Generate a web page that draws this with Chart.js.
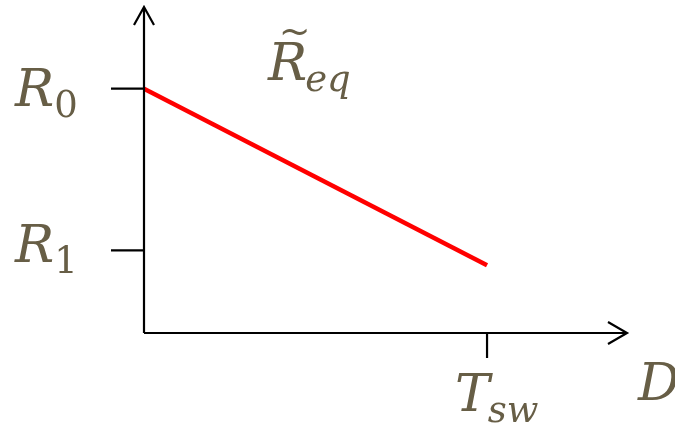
<!DOCTYPE html>
<html>
<head>
<meta charset="utf-8">
<script src="https://cdn.jsdelivr.net/npm/chart.js@4/dist/chart.umd.min.js"></script>
<style>
    html, body { margin: 0; padding: 0; background: #ffffff; }
    #wrap { width: 675px; height: 426px; }
</style>
</head>
<body>
<div id="wrap"><canvas id="reqChart" width="675" height="426"></canvas></div>
<script>
// line end points: x in units of T_sw, y in units of R1
const durations = [0, 1];
const reqValues = [2.96, 0.82];

// axis marks
const yTickValues = [2.96, 1];
const yTickLabels = [['R', '0'], ['R', '1']];
const xTickValues = [1];
const xTickLabels = [['T', 'sw']];
const xAxisLabel = 'D';
const seriesLabel = ['R', 'eq'];

const textColor = '#675e46';
const mathFont = '"DejaVu Serif", serif';

function drawSub(ctx, main, sub, x, y, size) {
    ctx.font = 'italic ' + size + 'px ' + mathFont;
    ctx.fillText(main, x, y);
    const w = ctx.measureText(main).width;
    // digits stay upright, letters italic
    const style = /^[0-9]+$/.test(sub) ? '' : 'italic ';
    ctx.font = style + Math.round(size * 0.72) + 'px ' + mathFont;
    ctx.fillText(sub, x + w - (style ? 2 : 0), y + 11);
    return w;
}

const axesPlugin = {
    id: 'axesPlugin',
    afterDraw(chart) {
        const ctx = chart.ctx;
        const xs = chart.scales.x;
        const ys = chart.scales.y;
        const x0 = xs.getPixelForValue(0);
        const y0 = ys.getPixelForValue(0);
        const top = chart.chartArea.top;
        const right = chart.chartArea.right;

        ctx.save();
        ctx.strokeStyle = '#000000';
        ctx.lineWidth = 2.2;

        // y axis with arrow
        ctx.beginPath();
        ctx.moveTo(x0, y0);
        ctx.lineTo(x0, top);
        ctx.moveTo(x0 - 10, top + 18);
        ctx.lineTo(x0, top);
        ctx.lineTo(x0 + 10, top + 18);
        // x axis with arrow
        ctx.moveTo(x0, y0);
        ctx.lineTo(right, y0);
        ctx.moveTo(right - 19, y0 - 11);
        ctx.lineTo(right, y0);
        ctx.lineTo(right - 19, y0 + 11);
        ctx.stroke();

        ctx.fillStyle = textColor;
        ctx.textBaseline = 'alphabetic';
        ctx.textAlign = 'left';

        // y ticks
        yTickValues.forEach(function (v, i) {
            const py = ys.getPixelForValue(v);
            ctx.beginPath();
            ctx.moveTo(x0 - 33, py);
            ctx.lineTo(x0, py);
            ctx.stroke();
            drawSub(ctx, yTickLabels[i][0], yTickLabels[i][1], 15, py + (i === 0 ? 17 : 12), 52);
        });

        // x ticks
        xTickValues.forEach(function (v, i) {
            const px = xs.getPixelForValue(v);
            ctx.beginPath();
            ctx.moveTo(px, y0);
            ctx.lineTo(px, y0 + 25);
            ctx.stroke();
            drawSub(ctx, xTickLabels[i][0], xTickLabels[i][1], px - 32, y0 + 78, 52);
        });

        // axis name
        ctx.font = 'italic 52px ' + mathFont;
        ctx.fillText(xAxisLabel, 638, y0 + 67);

        // series label with tilde
        const lx = x0 + 124;
        const ly = 80;
        const rw = drawSub(ctx, seriesLabel[0], seriesLabel[1], lx, ly, 52);
        ctx.font = 'italic 38px ' + mathFont;
        ctx.textAlign = 'center';
        ctx.fillText('~', lx + rw / 2 + 7, ly - 36);
        ctx.restore();
    }
};

new Chart(document.getElementById('reqChart').getContext('2d'), {
    type: 'scatter',
    data: {
        datasets: [
            {
                label: 'Req',
                data: durations.map(function (d, i) { return { x: d, y: reqValues[i] }; }),
                showLine: true,
                borderColor: '#ff0000',
                borderWidth: 4.5,
                pointRadius: 0,
                borderCapStyle: 'butt'
            }
        ]
    },
    options: {
        responsive: false,
        animation: false,
        layout: {
            padding: { left: 144, right: 48, top: 7, bottom: 93 }
        },
        plugins: {
            legend: { display: false },
            tooltip: { enabled: false }
        },
        scales: {
            x: { type: 'linear', min: 0, max: 1.408, display: false },
            y: { type: 'linear', min: 0, max: 3.95, display: false }
        }
    },
    plugins: [axesPlugin]
});
</script>
</body>
</html>
